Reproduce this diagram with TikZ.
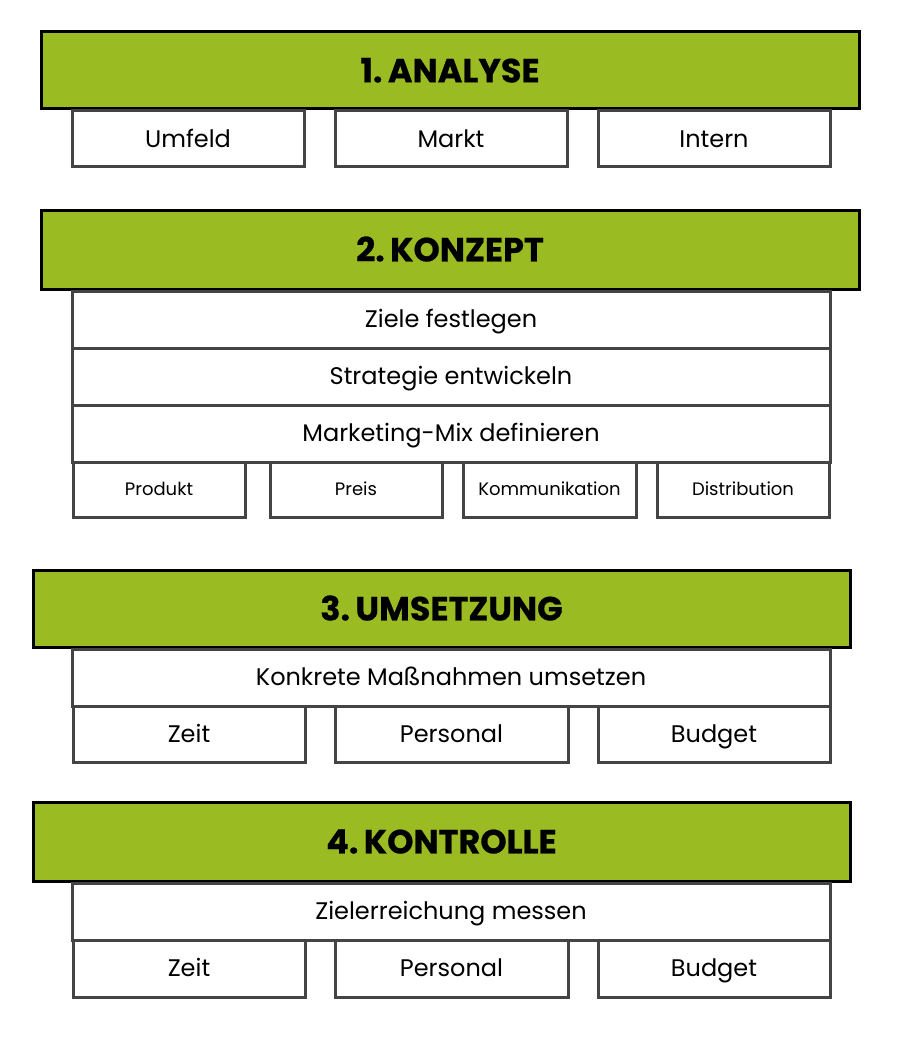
\documentclass[tikz,border=0pt]{standalone}
\usepackage{fontspec}
\setmainfont{Poppins}
\newfontfamily\headfont{Poppins}[FakeBold=0.6]
\definecolor{hgreen}{RGB}{155,187,34}
\definecolor{bgray}{RGB}{68,68,68}
\tikzset{
  head/.style={draw=black, line width=3pt, fill=hgreen, inner sep=0pt,
    font=\fontsize{33.5}{38}\headfont\bfseries, text height=23.8pt, text depth=0pt, yshift=1pt},
  row/.style={draw=bgray, line width=3pt, fill=white, inner sep=0pt,
    font=\fontsize{24}{28}\selectfont, text height=16.8pt, text depth=0pt},
  small/.style={row, font=\fontsize{18}{21}\selectfont, text height=12.6pt},
}
\newcommand\hsp{\hspace{-0.12em}}
\newcommand\mybox[7]{%
  \pgfmathsetmacro\bw{#4-#2}\pgfmathsetmacro\bh{#5-#3}%
  \pgfmathsetmacro\cx{(#2+#4)/2}\pgfmathsetmacro\cy{(#3+#5)/2}%
  \node[#6, minimum width=\bw pt, minimum height=\bh pt] (#1) at (\cx,\cy) {#7};}
\begin{document}
\begin{tikzpicture}[x=1pt,y=-1pt]
\useasboundingbox (0,0) rectangle (905,1043);
% 1
\mybox{h1}{41}{33}{859}{110}{head}{1.\hsp{} ANALYSE}
\mybox{a1}{72}{111}{304}{167}{row}{Umfeld}
\mybox{a2}{335}{111}{567}{167}{row}{Markt}
\mybox{a3}{598}{111}{830}{167}{row}{Intern}
% 2
\mybox{h2}{41}{211}{859}{290}{head}{2.\hsp{} KONZEPT}
\mybox{k1}{72}{291}{830}{348}{row}{Ziele festlegen}
\mybox{k2}{72}{348}{830}{405}{row}{Strategie entwickeln}
\mybox{k3}{72}{405}{830}{462}{row}{Marketing-Mix definieren}
\mybox{p1}{73}{462}{245}{517}{small}{Produkt}
\mybox{p2}{270}{462}{442}{517}{small}{Preis}
\mybox{p3}{463}{462}{636}{517}{small}{Kommunikation}
\mybox{p4}{657}{462}{829}{517}{small}{Distribution}
% 3
\mybox{h3}{33}{571}{850}{648}{head}{3.\hsp{} UMSETZUNG}
\mybox{u1}{72}{649}{830}{706}{row}{Konkrete Maßnahmen umsetzen}
\mybox{u2}{73}{706}{305}{762}{row}{Zeit}
\mybox{u3}{335}{706}{568}{762}{row}{Personal}
\mybox{u4}{598}{706}{830}{762}{row}{Budget}
% 4
\mybox{h4}{33}{803}{850}{882}{head}{4.\hsp{} KONTROLLE}
\mybox{c1}{72}{883}{830}{940}{row}{Zielerreichung messen}
\mybox{c2}{73}{940}{305}{997}{row}{Zeit}
\mybox{c3}{335}{940}{568}{997}{row}{Personal}
\mybox{c4}{598}{940}{830}{997}{row}{Budget}
\end{tikzpicture}
\end{document}
